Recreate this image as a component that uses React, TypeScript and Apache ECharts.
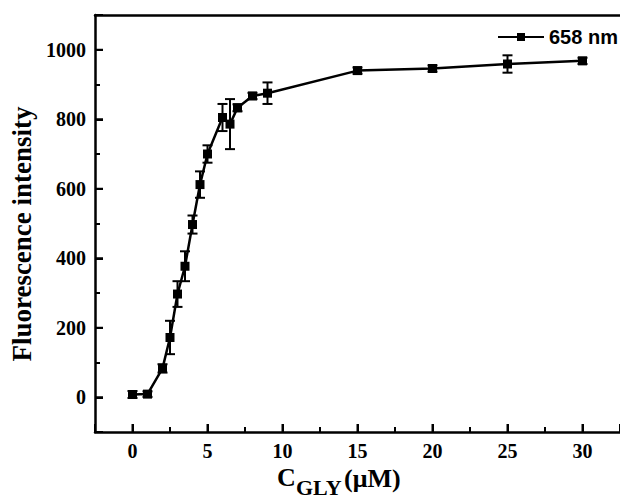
import React, { useEffect, useRef } from "react";
import * as echarts from "echarts";

// ---- data ----
const concentrations = [0, 1, 2, 2.5, 3, 3.5, 4, 4.5, 5, 6, 6.5, 7, 8, 9, 15, 20, 25, 30];
const intensity = [8, 9, 83, 172, 297, 377, 497, 612, 700, 805, 786, 833, 867, 875, 940, 946, 959, 968];
const errors = [10, 8, 12, 48, 37, 43, 26, 38, 25, 39, 72, 10, 9, 31, 9, 9, 25, 9];

// axis ranges, major tick values and tick labels
const xRange = [-2.5, 32.5];
const yRange = [-100, 1100];
const xMajorTicks = [0, 5, 10, 15, 20, 25, 30];
const yMajorTicks = [0, 200, 400, 600, 800, 1000];
const xTickLabels = ["0", "5", "10", "15", "20", "25", "30"];
const yTickLabels = ["0", "200", "400", "600", "800", "1000"];

const seriesName = "658 nm";
const yTitle = "Fluorescence intensity";
const xTitleMain = "C";
const xTitleSub = "GLY";
const xTitleUnit = "(μM)";

const SERIF = "'Liberation Serif', 'Times New Roman', serif";
const SANS = "'Liberation Sans', Arial, sans-serif";

export default function App() {
  const ref = useRef<HTMLDivElement>(null);

  useEffect(() => {
    if (!ref.current) return;
    const chart = echarts.init(ref.current, undefined, { renderer: "svg" });

    const lineData = concentrations.map((c, i) => [c, intensity[i]]);
    const errData = concentrations.map((c, i) => [c, intensity[i] - errors[i], intensity[i] + errors[i]]);
    const xTickData = xMajorTicks.map((v) => [v, yRange[0]]);
    const yTickData = yMajorTicks.map((v) => [xRange[0], v]);

    const labelStyle = { fontFamily: SERIF, fontWeight: "bold" as const, fontSize: 20, color: "#000" };
    const tickStyle = { color: "#000", width: 2 };
    const axisLineStyle = { color: "#000", width: 2.5 };
    const majorLen = 8;

    const option: any = {
      animation: false,
      backgroundColor: "#fff",
      grid: { left: 95, top: 15, width: 528, height: 417, show: false },
      legend: {
        data: [seriesName],
        left: 497,
        top: 27,
        padding: 0,
        itemWidth: 46,
        itemHeight: 10,
        textStyle: { fontFamily: SANS, fontWeight: "bold", fontSize: 20, color: "#000" },
      },
      xAxis: [
        {
          type: "value",
          min: xRange[0],
          max: xRange[1],
          splitNumber: 7,
          position: "bottom",
          axisLine: { show: true, onZero: false, lineStyle: axisLineStyle },
          axisTick: { show: true, inside: true, length: majorLen, lineStyle: tickStyle },
          minorTick: { show: true, splitNumber: 2, length: 5, lineStyle: tickStyle },
          axisLabel: {
            ...labelStyle,
            margin: 9,
            showMinLabel: false,
            showMaxLabel: false,
            formatter: (v: number) => (xTickLabels.indexOf(String(v)) >= 0 ? String(v) : ""),
          },
          splitLine: { show: false },
          minorSplitLine: { show: false },
        },
        {
          type: "value",
          min: xRange[0],
          max: xRange[1],
          position: "top",
          axisLine: { show: true, onZero: false, lineStyle: axisLineStyle },
          axisTick: { show: false },
          minorTick: { show: false },
          axisLabel: { show: false },
          splitLine: { show: false },
        },
      ],
      yAxis: {
        type: "value",
        min: yRange[0],
        max: yRange[1],
        splitNumber: 6,
        position: "left",
        axisLine: { show: true, onZero: false, lineStyle: axisLineStyle },
        axisTick: { show: true, inside: true, length: majorLen, lineStyle: tickStyle },
        minorTick: { show: true, splitNumber: 2, length: 5, lineStyle: tickStyle },
        axisLabel: {
          ...labelStyle,
          margin: 9,
          showMinLabel: false,
          showMaxLabel: false,
          formatter: (v: number) => (yTickLabels.indexOf(String(v)) >= 0 ? String(v) : ""),
        },
        splitLine: { show: false },
        minorSplitLine: { show: false },
      },
      series: [
        {
          name: "xMajorTicks",
          type: "custom",
          silent: true,
          xAxisIndex: 0,
          data: xTickData,
          encode: { x: 0, y: 1 },
          z: 1,
          renderItem: (params: any, api: any) => {
            const p = api.coord([api.value(0), api.value(1)]);
            return {
              type: "line",
              shape: { x1: p[0], y1: p[1], x2: p[0], y2: p[1] - majorLen },
              style: { stroke: "#000", lineWidth: 2 },
            };
          },
        },
        {
          name: "yMajorTicks",
          type: "custom",
          silent: true,
          xAxisIndex: 0,
          data: yTickData,
          encode: { x: 0, y: 1 },
          z: 1,
          renderItem: (params: any, api: any) => {
            const p = api.coord([api.value(0), api.value(1)]);
            return {
              type: "line",
              shape: { x1: p[0], y1: p[1], x2: p[0] + majorLen, y2: p[1] },
              style: { stroke: "#000", lineWidth: 2 },
            };
          },
        },
        {
          name: "error",
          type: "custom",
          xAxisIndex: 0,
          data: errData,
          encode: { x: 0, y: [1, 2] },
          z: 3,
          renderItem: (params: any, api: any) => {
            const x = api.value(0);
            const lo = api.coord([x, api.value(1)]);
            const hi = api.coord([x, api.value(2)]);
            const hw = 5;
            const style = { stroke: "#000", lineWidth: 2 };
            return {
              type: "group",
              children: [
                { type: "line", shape: { x1: lo[0], y1: lo[1], x2: hi[0], y2: hi[1] }, style },
                { type: "line", shape: { x1: lo[0] - hw, y1: lo[1], x2: lo[0] + hw, y2: lo[1] }, style },
                { type: "line", shape: { x1: hi[0] - hw, y1: hi[1], x2: hi[0] + hw, y2: hi[1] }, style },
              ],
            };
          },
        },
        {
          name: seriesName,
          type: "line",
          xAxisIndex: 0,
          data: lineData,
          symbol: "rect",
          symbolSize: 9,
          z: 4,
          lineStyle: { color: "#000", width: 2.5 },
          itemStyle: { color: "#000" },
        },
      ],
      graphic: [
        {
          type: "text",
          x: 22,
          y: 234,
          rotation: Math.PI / 2,
          style: {
            text: yTitle,
            fontFamily: SERIF,
            fontWeight: "bold",
            fontSize: 27,
            fill: "#000",
            align: "center",
            verticalAlign: "middle",
          },
        },
        {
          type: "text",
          x: 277,
          y: 477,
          style: {
            text: xTitleMain,
            fontFamily: SERIF,
            fontWeight: "bold",
            fontSize: 26,
            fill: "#000",
            align: "left",
            verticalAlign: "middle",
          },
        },
        {
          type: "text",
          x: 296,
          y: 487,
          style: {
            text: xTitleSub,
            fontFamily: SERIF,
            fontWeight: "bold",
            fontSize: 22,
            fill: "#000",
            align: "left",
            verticalAlign: "middle",
          },
        },
        {
          type: "text",
          x: 344,
          y: 478,
          style: {
            text: xTitleUnit,
            fontFamily: SERIF,
            fontWeight: "bold",
            fontSize: 26,
            fill: "#000",
            align: "left",
            verticalAlign: "middle",
          },
        },
      ],
    };

    chart.setOption(option);
    return () => {
      chart.dispose();
    };
  }, []);

  return (
    <div
      ref={ref}
      style={{ position: "fixed", left: 0, top: 0, width: 620, height: 499, background: "#fff" }}
    />
  );
}
